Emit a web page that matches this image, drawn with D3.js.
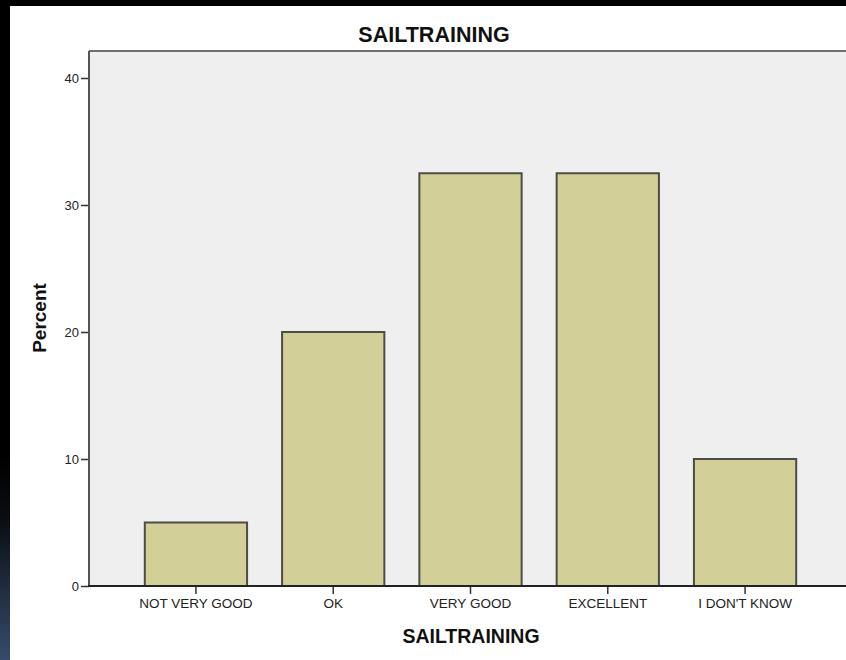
<!DOCTYPE html>
<html>
<head>
<meta charset="utf-8">
<script src="https://cdn.jsdelivr.net/npm/d3@7"></script>
<style>
  html, body { margin: 0; padding: 0; background: #000; }
  svg { display: block; }
  text { font-family: Arial, "Liberation Sans", sans-serif; }
</style>
</head>
<body>
<div id="chartContainer"></div>
<script>
// chart data
const categories = ["NOT VERY GOOD", "OK", "VERY GOOD", "EXCELLENT", "I DON'T KNOW"];
const percents = [5, 20, 32.5, 32.5, 10];
const yTicks = [0, 10, 20, 30, 40];

const W = 846, H = 660;
const plot = { left: 89, top: 51, right: 850, bottom: 586 };

const svg = d3.select("#chartContainer")
    .append("svg")
    .attr("width", W)
    .attr("height", H);

// dark frame around the white panel, blue-ish at the bottom left
const grad = svg.append("defs").append("linearGradient")
    .attr("id", "edge").attr("x1", 0).attr("y1", 0).attr("x2", 0).attr("y2", 1);
grad.append("stop").attr("offset", "0").attr("stop-color", "#000");
grad.append("stop").attr("offset", "0.3").attr("stop-color", "#0a0d12");
grad.append("stop").attr("offset", "1").attr("stop-color", "#364b6c");

svg.append("rect").attr("width", W).attr("height", H).attr("fill", "#000");
svg.append("rect").attr("x", 0).attr("y", 457).attr("width", 10).attr("height", H - 457)
    .attr("fill", "url(#edge)");
svg.append("rect").attr("x", 10).attr("y", 6).attr("width", W - 10).attr("height", H - 6)
    .attr("fill", "#fff");

// plot background
svg.append("rect")
    .attr("x", plot.left).attr("y", plot.top)
    .attr("width", plot.right - plot.left).attr("height", plot.bottom - plot.top)
    .attr("fill", "#efefef");

// scales
const xScale = d3.scaleBand()
    .domain(categories)
    .range([127.3, 813.7])
    .paddingInner(0.255)
    .paddingOuter(0.1275);

const yScale = d3.scaleLinear()
    .domain([0, 40])
    .range([plot.bottom, 78]);

// bars
svg.selectAll(".bar")
    .data(categories)
    .enter()
    .append("rect")
    .attr("class", "bar")
    .attr("x", d => xScale(d))
    .attr("y", (d, i) => yScale(percents[i]))
    .attr("width", xScale.bandwidth())
    .attr("height", (d, i) => yScale(0) - yScale(percents[i]))
    .attr("fill", "#d3cf99")
    .attr("stroke", "#4d4d45")
    .attr("stroke-width", 2);

// frame lines
svg.append("line")
    .attr("x1", plot.left).attr("x2", plot.right)
    .attr("y1", plot.top).attr("y2", plot.top)
    .attr("stroke", "#6e6e6e").attr("stroke-width", 2);

// y axis
const yAxis = svg.append("g")
    .attr("class", "axis y-axis")
    .attr("transform", `translate(${plot.left},0)`)
    .call(d3.axisLeft(yScale).tickValues(yTicks).tickSize(8).tickPadding(2).tickSizeOuter(0));
yAxis.select(".domain").remove();
yAxis.append("line")
    .attr("x1", 0).attr("x2", 0)
    .attr("y1", plot.top).attr("y2", plot.bottom)
    .attr("stroke", "#555").attr("stroke-width", 2);
yAxis.selectAll(".tick line").attr("stroke", "#333").attr("stroke-width", 1.5);
yAxis.selectAll("text")
    .style("font-size", "13px")
    .style("font-family", "Arial, 'Liberation Sans', sans-serif")
    .attr("fill", "#222");

// x axis
const xAxis = svg.append("g")
    .attr("class", "axis x-axis")
    .attr("transform", `translate(0,${plot.bottom})`)
    .call(d3.axisBottom(xScale).tickSize(8).tickPadding(4).tickSizeOuter(0));
xAxis.select(".domain").remove();
xAxis.append("line")
    .attr("x1", plot.left - 1).attr("x2", plot.right)
    .attr("y1", 0).attr("y2", 0)
    .attr("stroke", "#222").attr("stroke-width", 2);
xAxis.selectAll(".tick line").attr("stroke", "#333").attr("stroke-width", 1.5);
xAxis.selectAll("text")
    .style("font-size", "13.5px")
    .style("font-family", "Arial, 'Liberation Sans', sans-serif")
    .attr("fill", "#222");

// titles
svg.append("text")
    .attr("x", 434).attr("y", 42)
    .attr("text-anchor", "middle")
    .style("font-size", "21.5px").style("font-weight", "bold")
    .attr("fill", "#111")
    .text("SAILTRAINING");

svg.append("text")
    .attr("x", 471).attr("y", 643)
    .attr("text-anchor", "middle")
    .style("font-size", "19.5px").style("font-weight", "bold")
    .attr("fill", "#111")
    .text("SAILTRAINING");

svg.append("text")
    .attr("transform", "translate(46,318) rotate(-90)")
    .attr("text-anchor", "middle")
    .style("font-size", "19px").style("font-weight", "bold")
    .attr("fill", "#111")
    .text("Percent");
</script>
</body>
</html>
